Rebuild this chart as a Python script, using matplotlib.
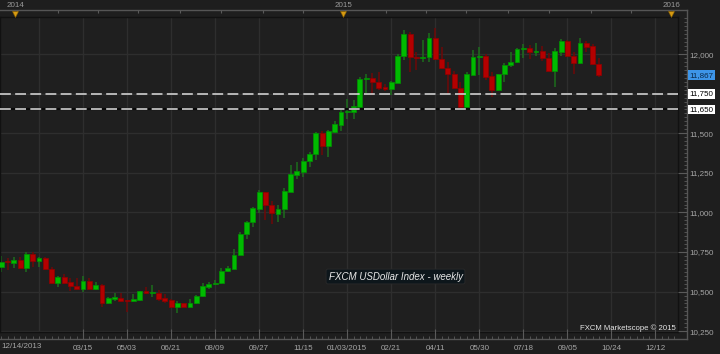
import matplotlib
matplotlib.use('Agg')
import matplotlib.pyplot as plt
import matplotlib.dates as mdates
import matplotlib.transforms as mtransforms
from matplotlib.ticker import FixedLocator, MultipleLocator, NullFormatter
import numpy as np
import pandas as pd

plt.rcParams['font.family'] = ['Liberation Sans', 'DejaVu Sans']

# ---------------- data ----------------
first_week = '2013-12-14'
opens = [10658, 10689, 10683, 10700, 10651, 10738, 10693, 10711, 10643, 10552,
         10590, 10559, 10535, 10514, 10569, 10518, 10541, 10426, 10453, 10462,
         10447, 10439, 10447, 10502, 10490, 10491, 10460, 10447, 10405, 10426,
         10405, 10426, 10472, 10531, 10546, 10552, 10630, 10645, 10731, 10862,
         10941, 11022, 11127, 11047, 10990, 11020, 11131, 11238, 11255, 11325,
         11369, 11500, 11419, 11510, 11552, 11632, 11636, 11667, 11840, 11847,
         11825, 11794, 11777, 11819, 11987, 12126, 11983, 11977, 11979, 12103,
         11969, 11910, 11872, 11787, 11667, 11868, 11981, 11987, 11861, 11773,
         11872, 11931, 11948, 12030, 12038, 12015, 12019, 11973, 11895, 12015,
         12084, 11987, 11941, 12068, 12051, 11935]
highs = [10725, 10711, 10717, 10721, 10752, 10752, 10721, 10721, 10654, 10601,
         10611, 10584, 10584, 10599, 10584, 10562, 10545, 10468, 10493, 10493,
         10449, 10483, 10504, 10531, 10541, 10510, 10485, 10451, 10443, 10430,
         10453, 10479, 10552, 10562, 10573, 10647, 10662, 10767, 10878, 10948,
         11036, 11142, 11131, 11074, 11047, 11152, 11299, 11320, 11342, 11383,
         11506, 11516, 11520, 11579, 11651, 11714, 11710, 11857, 11872, 11878,
         11885, 11809, 11830, 11998, 12152, 12141, 12011, 12088, 12131, 12166,
         12046, 11948, 11893, 11825, 11888, 12025, 12046, 12000, 11888, 11876,
         11941, 12015, 12040, 12061, 12057, 12068, 12052, 12004, 12036, 12095,
         12088, 12015, 12103, 12082, 12061, 11973]
lows = [10626, 10637, 10651, 10641, 10626, 10658, 10654, 10637, 10548, 10527,
        10549, 10506, 10510, 10499, 10510, 10510, 10405, 10422, 10443, 10436,
        10373, 10433, 10439, 10485, 10468, 10443, 10426, 10401, 10367, 10401,
        10401, 10422, 10464, 10514, 10541, 10550, 10626, 10643, 10729, 10830,
        10906, 10998, 10952, 10925, 10941, 10967, 11129, 11209, 11222, 11285,
        11331, 11363, 11348, 11503, 11516, 11588, 11588, 11665, 11752, 11741,
        11773, 11766, 11741, 11815, 11962, 11888, 11899, 11951, 11951, 11965,
        11908, 11746, 11785, 11665, 11665, 11866, 11868, 11836, 11731, 11766,
        11825, 11920, 11941, 11977, 11969, 11989, 11956, 11893, 11794, 11989,
        11987, 11872, 11939, 12015, 11933, 11857]
closes = [10689, 10685, 10700, 10651, 10738, 10693, 10711, 10643, 10552, 10590,
          10556, 10537, 10514, 10569, 10518, 10541, 10426, 10462, 10464, 10443,
          10439, 10453, 10502, 10490, 10493, 10453, 10441, 10405, 10426, 10405,
          10430, 10472, 10535, 10546, 10556, 10632, 10647, 10731, 10864, 10941,
          11026, 11127, 11047, 10994, 11022, 11135, 11243, 11261, 11326, 11369,
          11500, 11421, 11514, 11556, 11634, 11640, 11672, 11840, 11850, 11825,
          11787, 11777, 11821, 11987, 12126, 11983, 11977, 11983, 12103, 11967,
          11910, 11872, 11787, 11667, 11872, 11983, 11987, 11857, 11773, 11874,
          11931, 11951, 12032, 12038, 12013, 12021, 11973, 11895, 12019, 12084,
          11989, 11941, 12068, 12046, 11935, 11867]

dashed_levels = [11750, 11650]
last_price = 11867
y_tick_values = [10250, 10500, 10750, 11000, 11250, 11500, 12000]
first_grid_date = '2014-01-25'
last_grid_date = '2015-12-12'
full_year_label_date = '2015-01-03'
year_dates = ['2014-01-01', '2015-01-01', '2016-01-01']
year_labels = ['2014', '2015', '2016']
top_tick_dates = ['2014-01-01', '2014-02-15', '2014-04-01', '2014-05-15', '2014-07-01',
                  '2014-08-15', '2014-10-01', '2014-11-15', '2015-01-01', '2015-02-15',
                  '2015-04-01', '2015-05-15', '2015-07-01', '2015-08-15', '2015-10-01',
                  '2015-11-15', '2016-01-01']
chart_title = 'FXCM USDollar Index - weekly'
credit_text = 'FXCM Marketscope \u00a9 2015'

# ---------------- layout ----------------
W, H = 720, 354
BG = '#1e1e1e'
PLOT_BG = '#1f1f1f'
GRID = '#2e2e2e'
FRAME = '#555555'
LABEL = '#a6a6a6'
TICK = '#5a5a5a'
UP_BODY, UP_EDGE, UP_WICK = '#00ba00', '#009400', '#1c6e1c'
DN_BODY, DN_EDGE, DN_WICK = '#b40000', '#920000', '#6e0808'


def fr(x0, y0, x1, y1):
    """pixel box (top-left origin) -> figure fraction rect"""
    return [x0 / W, 1 - y1 / H, (x1 - x0) / W, (y1 - y0) / H]


fig = plt.figure(figsize=(W / 100, H / 100), dpi=100, facecolor=BG)

PX0, PX1, PY0, PY1 = 0, 678, 17, 332

ax = fig.add_axes(fr(PX0, PY0, PX1, PY1))
ax.set_facecolor(PLOT_BG)

dates = pd.date_range(first_week, periods=len(opens), freq='7D')
xd = mdates.date2num(dates)
start = xd[0]
XL = (start - 1.45, start + 753.1)
YL = (10245, 12234)
ax.set_xlim(*XL)
ax.set_ylim(*YL)

# grid
grid_dates = pd.date_range(first_grid_date, last_grid_date, freq='49D')
grid_x = mdates.date2num(grid_dates)
for gx in grid_x:
    ax.axvline(gx, color=GRID, lw=1.0, zorder=0)
for gy in np.arange(10250, 12001, 250):
    ax.axhline(gy, color=GRID, lw=1.0, zorder=0)

o = np.array(opens, float)
h = np.array(highs, float)
l = np.array(lows, float)
c = np.array(closes, float)
up = c >= o
body_lo = np.minimum(o, c)
body_h = np.maximum(np.abs(c - o), 5.5)

ax.vlines(xd[up], l[up], h[up], color=UP_WICK, lw=1.1, zorder=2)
ax.vlines(xd[~up], l[~up], h[~up], color=DN_WICK, lw=1.1, zorder=2)
ax.bar(xd[up], body_h[up], bottom=body_lo[up], width=5.4, color=UP_BODY,
       edgecolor=UP_EDGE, lw=0.5, zorder=3)
ax.bar(xd[~up], body_h[~up], bottom=body_lo[~up], width=5.4, color=DN_BODY,
       edgecolor=DN_EDGE, lw=0.5, zorder=3)

# dashed support lines
ax.axhline(dashed_levels[1], color='#080808', lw=1.6, zorder=4)
for lv in dashed_levels:
    ax.axhline(lv, color='#cfcfcf', lw=1.2, ls=(0, (6.5, 2.6)), zorder=5)

ax.set_xticks([])
ax.set_yticks([])
for s in ax.spines.values():
    s.set_color('#111111')
    s.set_linewidth(1.0)

# frame lines (top ruler line, right ruler line, bottom ruler line)
axf = fig.add_axes(fr(0, 10, 687, 339), zorder=-1)
axf.set_facecolor('none')
axf.set_xticks([]); axf.set_yticks([])
axf.spines['left'].set_visible(False)
for k in ('top', 'right', 'bottom'):
    axf.spines[k].set_color(FRAME)
    axf.spines[k].set_linewidth(1.0)

# bottom ruler
axb = fig.add_axes(fr(PX0, PY1, PX1, 339))
axb.set_facecolor('none')
axb.set_xlim(*XL)
axb.set_ylim(0, 1)
axb.set_yticks([])
for s in axb.spines.values():
    s.set_visible(False)
label_dates = grid_dates[1:]
labels = [d.strftime('%m/%d/%Y') if d == pd.Timestamp(full_year_label_date)
          else d.strftime('%m/%d') for d in label_dates]
axb.xaxis.set_major_locator(FixedLocator(mdates.date2num(label_dates)))
axb.xaxis.set_minor_locator(FixedLocator(xd[0] + 7 * np.arange(0, 110)))
axb.set_xticklabels(labels)
axb.tick_params(axis='x', which='major', direction='in', length=7, width=0.8,
                color=TICK, labelsize=5.8, labelcolor=LABEL, pad=4)
axb.tick_params(axis='x', which='minor', direction='in', length=2.2, width=0.6,
                color=TICK)
# first-bar date label at left edge
fig.text(1 / W, 1 - 347 / H, dates[0].strftime('%m/%d/%Y'), ha='left', va='center',
         fontsize=5.8, color=LABEL)

# right ruler
axr = fig.add_axes(fr(PX1, PY0, 687, PY1))
axr.set_facecolor('none')
axr.set_ylim(*YL)
axr.set_xticks([])
for s in axr.spines.values():
    s.set_visible(False)
axr.yaxis.tick_right()
axr.yaxis.set_major_locator(FixedLocator(y_tick_values))
axr.yaxis.set_minor_locator(MultipleLocator(25))
axr.set_yticklabels([f'{v:,}' for v in y_tick_values])
axr.tick_params(axis='y', which='major', direction='in', length=6.5, width=0.8,
                color=TICK, labelsize=5.8, labelcolor=LABEL, pad=2)
axr.tick_params(axis='y', which='minor', direction='in', length=2, width=0.6,
                color=TICK)

# price tags on the right
tr = mtransforms.blended_transform_factory(fig.transFigure, ax.transData)
tag_x = 689.5 / W
ax.text(tag_x, last_price, f'{last_price:,}', transform=tr, ha='left', va='center',
        fontsize=5.8, color='#0b2a4a', clip_on=False, zorder=10,
        bbox=dict(boxstyle='square,pad=0.18', fc='#3d95e8', ec='none'))
for lv in dashed_levels:
    ax.text(tag_x, lv, f'{lv:,}', transform=tr, ha='left', va='center',
            fontsize=5.8, color='#000000', clip_on=False, zorder=10,
            bbox=dict(boxstyle='square,pad=0.18', fc='#ffffff', ec='none'))

# top ruler
axt = fig.add_axes(fr(PX0, 10, 687, PY0))
axt.set_facecolor('none')
XLT = (XL[0], XL[1] + 9 * 7 / 6.29)
axt.set_xlim(*XLT)
axt.set_ylim(0, 1)
axt.set_yticks([])
for s in axt.spines.values():
    s.set_visible(False)
axt.xaxis.tick_top()
axt.xaxis.set_major_locator(FixedLocator(mdates.date2num(pd.to_datetime(top_tick_dates))))
axt.xaxis.set_major_formatter(NullFormatter())
axt.tick_params(axis='x', which='major', direction='in', length=2.5, width=0.8,
                color=TICK)
yx = mdates.date2num(pd.to_datetime(year_dates)) - 2.5
axt.plot(yx, [0.45] * len(yx), ls='none', marker='v', ms=4.2,
         mfc='#d69a12', mec='#8a6000', mew=0.4, clip_on=False, zorder=5)
ttr = mtransforms.blended_transform_factory(axt.transData, axt.transAxes)
for xx, lab in zip(yx, year_labels):
    axt.text(xx, 1.15, lab, transform=ttr, ha='center', va='bottom',
             fontsize=5.8, color='#9a9a9a', clip_on=False)

# watermark title
fig.text(395.5 / W, 1 - 276.5 / H, chart_title, ha='center', va='center',
         fontsize=7, style='italic', color='#e8e8e8',
         bbox=dict(boxstyle='round,pad=0.25,rounding_size=0.2', fc='#0d161b',
                   ec='#2a2a2a', lw=0.6))

# credit
fig.text(676 / W, 1 - 328 / H, credit_text, ha='right', va='center',
         fontsize=5.6, color='#e6e6e6')

fig.savefig('out.png', dpi=100, facecolor=BG)
